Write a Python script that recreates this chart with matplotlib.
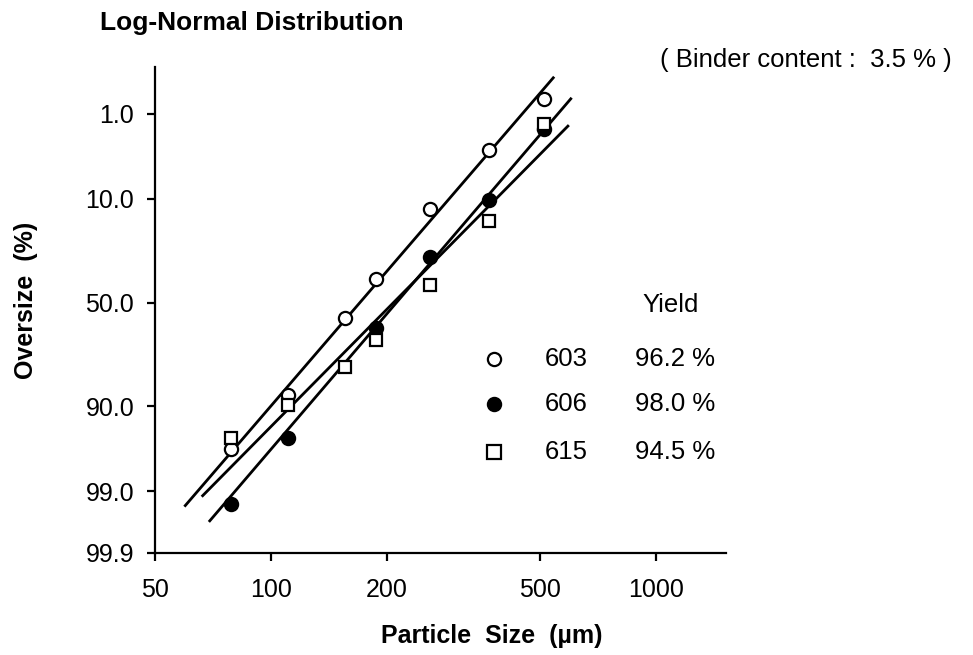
import numpy as np
import matplotlib
matplotlib.use("Agg")
import matplotlib.pyplot as plt
from statistics import NormalDist

plt.rcParams['font.family'] = ['Liberation Sans', 'DejaVu Sans']

# ---------------- data ----------------
series_names = ["603", "606", "615"]
yields = ["96.2 %", "98.0 %", "94.5 %"]

size_603 = [78.6, 110.7, 155.7, 187.4, 258.8, 368.3, 511.9]
over_603 = [96.5, 87.3, 57.7, 38.8, 12.35, 3.0, 0.61]

size_606 = [78.6, 110.7, 187.4, 258.8, 368.3, 511.9]
over_606 = [99.36, 95.27, 62.1, 28.8, 10.3, 1.6]

size_615 = [78.6, 110.7, 155.7, 187.4, 258.8, 368.3, 511.9]
over_615 = [95.24, 89.7, 78.8, 67.8, 41.6, 15.6, 1.38]

# fitted lines (end points: size, oversize %)
line_603_x = [59.6, 544]
line_603_y = [99.41, 0.267]
line_606_x = [69.0, 604]
line_606_y = [99.66, 0.576]
line_615_x = [66.1, 594]
line_615_y = [99.17, 1.43]

x_ticks = [50, 100, 200, 500, 1000]
x_ticklabels = ["50", "100", "200", "500", "1000"]
y_ticks = [1.0, 10.0, 50.0, 90.0, 99.0, 99.9]
y_ticklabels = ["1.0", "10.0", "50.0", "90.0", "99.0", "99.9"]

# ---------------- probability scale ----------------
_nd = NormalDist()


def _ppf1(p):
    if not np.isfinite(p):
        return np.nan
    return _nd.inv_cdf(min(max(p, 1e-9), 1 - 1e-9))


def _cdf1(z):
    if not np.isfinite(z):
        return 0.0 if z < 0 else 1.0 if z > 0 else np.nan
    return _nd.cdf(z)


_ppf = np.vectorize(_ppf1, otypes=[float])
_cdf = np.vectorize(_cdf1, otypes=[float])


def fwd(p):
    p = np.asarray(p, dtype=float)
    return _ppf(p / 100.0)


def inv(z):
    z = np.asarray(z, dtype=float)
    return _cdf(z) * 100.0


W, H = 973, 655
L, R, T, B = 155, 726, 67, 553
fig = plt.figure(figsize=(W / 100, H / 100), dpi=100)
ax = fig.add_axes([L / W, 1 - B / H, (R - L) / W, (B - T) / H])

ax.set_xscale('log')
ax.set_yscale('function', functions=(fwd, inv))
ax.set_xlim(50, 1520)
ax.set_ylim(99.9, 0.183)

lw = 2.0
ax.plot(line_603_x, line_603_y, color='black', lw=lw, solid_capstyle='butt')
ax.plot(line_606_x, line_606_y, color='black', lw=lw, solid_capstyle='butt')
ax.plot(line_615_x, line_615_y, color='black', lw=lw, solid_capstyle='butt')

ms = 9.5
ax.plot(size_603, over_603, 'o', ms=ms, mfc='white', mec='black', mew=1.6, ls='none', zorder=3)
ax.plot(size_606, over_606, 'o', ms=ms, mfc='black', mec='black', mew=1.6, ls='none', zorder=3)
ax.plot(size_615, over_615, 's', ms=ms - 0.5, mfc='white', mec='black', mew=1.6, ls='none', zorder=3)

ax.spines['top'].set_visible(False)
ax.spines['right'].set_visible(False)
for s in ['left', 'bottom']:
    ax.spines[s].set_linewidth(1.6)

ax.set_xticks(x_ticks)
ax.set_xticklabels(x_ticklabels)
ax.xaxis.set_minor_locator(matplotlib.ticker.NullLocator())
ax.set_yticks(y_ticks)
ax.set_yticklabels(y_ticklabels)
ax.yaxis.set_minor_locator(matplotlib.ticker.NullLocator())
ax.tick_params(axis='x', direction='out', length=6, width=1.6, labelsize=18, pad=12)
ax.tick_params(axis='y', direction='out', length=6, width=1.6, labelsize=18, pad=9)

ax.set_xlabel("Particle  Size  (µm)", fontsize=18, fontweight='bold')
ax.xaxis.set_label_coords((492 - L) / (R - L), (B - 636) / (B - T))
ax.set_ylabel("Oversize  (%)", fontsize=18, fontweight='bold')
ax.yaxis.set_label_coords((26 - L) / (R - L), (B - 300) / (B - T))
ax.xaxis.label.set_va('center')
ax.yaxis.label.set_va('center')

fig.text(100 / W, 1 - 23 / H, "Log-Normal Distribution", fontsize=19,
         fontweight='bold', ha='left', va='center')
fig.text(660 / W, 1 - 60 / H, "( Binder content :  3.5 % )", fontsize=18.5,
         ha='left', va='center')

# legend drawn by hand
fig.text(671 / W, 1 - 305 / H, "Yield", fontsize=18.5, ha='center', va='center')
leg_y = [359, 404, 452]
styles = [dict(marker='o', mfc='white'), dict(marker='o', mfc='black'),
          dict(marker='s', mfc='white')]
for name, yl, py, st in zip(series_names, yields, leg_y, styles):
    fig.add_artist(matplotlib.lines.Line2D([494 / W], [1 - py / H], marker=st['marker'],
                                           ms=ms, mfc=st['mfc'], mec='black', mew=1.6,
                                           ls='none', transform=fig.transFigure))
    fig.text(545 / W, 1 - py / H, name, fontsize=18.5, ha='left', va='center')
    fig.text(635 / W, 1 - py / H, yl, fontsize=18.5, ha='left', va='center')

fig.savefig("out.png", dpi=100)
